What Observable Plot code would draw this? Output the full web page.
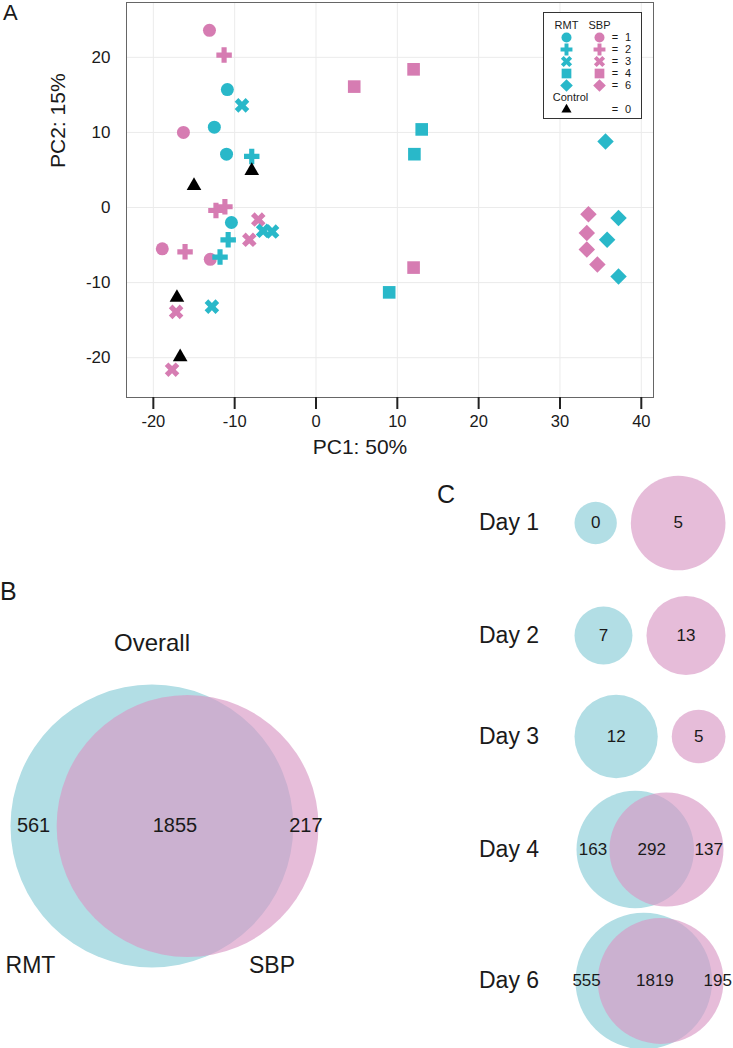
<!DOCTYPE html>
<html><head><meta charset="utf-8">
<script src="https://cdn.jsdelivr.net/npm/d3@7"></script>
<script src="https://cdn.jsdelivr.net/npm/@observablehq/plot@0.6"></script>
<style>
body{margin:0;background:#fff;}
#fig{position:relative;width:733px;height:1048px;overflow:hidden;font-family:"Liberation Sans",Arial,Helvetica,sans-serif;color:#1a1a1a;}
#fig svg{overflow:visible;}
</style></head>
<body><div id="fig"></div>
<script>
// ---------------- DATA ----------------
// Panel A: PCA scores
const rmtDay = [1,1,1,1,2,2,2,3,3,3,3,4,4,4,6,6,6,6];
const rmtPC1 = [-10.9,-12.5,-11.0,-10.4,-7.9,-10.8,-11.8,-9.1,-6.5,-5.4,-12.8,13.0,12.1,9.0,35.6,37.2,35.8,37.2];
const rmtPC2 = [15.7,10.7,7.1,-2.0,6.8,-4.3,-6.6,13.6,-3.1,-3.2,-13.2,10.4,7.1,-11.3,8.8,-1.4,-4.3,-9.2];
const sbpDay = [1,1,1,1,2,2,2,2,3,3,3,3,4,4,4,6,6,6,6];
const sbpPC1 = [-13.1,-16.3,-18.9,-13.0,-11.3,-12.3,-11.2,-16.1,-7.1,-8.2,-17.2,-17.7,4.7,12.0,12.0,33.5,33.3,33.3,34.6];
const sbpPC2 = [23.6,10.0,-5.5,-6.9,20.3,-0.4,0.1,-5.9,-1.6,-4.3,-13.9,-21.6,16.1,18.4,-8.0,-0.9,-3.4,-5.6,-7.6];
const ctrlPC1 = [-15.0,-7.9,-17.1,-16.7];
const ctrlPC2 = [2.9,4.9,-12.0,-19.9];
const dayLevels = [1,2,3,4,6];
const groups = ["RMT","SBP"];
const xTicks = [-20,-10,0,10,20,30,40];
const yTicks = [-20,-10,0,10,20];

// Panels B and C: Venn counts
const vennNames = ["Overall","Day 1","Day 2","Day 3","Day 4","Day 6"];
const rmtOnly = [561, 0, 7, 12, 163, 555];
const sbpOnly = [217, 5, 13, 5, 137, 195];
const shared  = [1855, 0, 0, 0, 292, 1819];

// ---------------- STYLE ----------------
const cyan = "#29b8c9", pink = "#d67cb2";
const vennCyan = "#b2dee5", vennPink = "#d998c5";
const FONT = '"Liberation Sans",Arial,Helvetica,sans-serif';
const fig = document.getElementById("fig");
const fmt = d => String(d);

// symbols
const symTimes = {draw(ctx, size) {
  const r = Math.sqrt(size / 5) / 2, c = Math.SQRT1_2;
  const pts = [[-3,-1],[-1,-1],[-1,-3],[1,-3],[1,-1],[3,-1],[3,1],[1,1],[1,3],[-1,3],[-1,1],[-3,1]];
  pts.forEach(([px, py], i) => { const x = (px - py) * c * r, y = (px + py) * c * r; i ? ctx.lineTo(x, y) : ctx.moveTo(x, y); });
  ctx.closePath();
}};
const symSquare = {draw(ctx, size) { d3.symbolSquare.draw(ctx, size * 1.2); }};
const symDiamond = {draw(ctx, size) { d3.symbolDiamond2.draw(ctx, size * 1.3); }};
const symTriangle = {draw(ctx, size) { d3.symbolTriangle.draw(ctx, size * 0.7); }};
const symbolScale = {domain: [1,2,3,4,6,0], range: [d3.symbolCircle, d3.symbolCross, symTimes, symSquare, symDiamond, symTriangle]};
const colorScale = {domain: ["RMT","SBP","Control"], range: [cyan, pink, "#000"]};

function place(el, left, top) {
  const wrap = document.createElement("div");
  wrap.style.cssText = `position:absolute;left:${left}px;top:${top}px;`;
  wrap.appendChild(el);
  fig.appendChild(wrap);
  return wrap;
}
function htmlText(str, x, baseline, size, anchor = "start") {
  const el = document.createElement("div");
  el.textContent = str;
  el.style.cssText = `position:absolute;white-space:nowrap;font-size:${size}px;line-height:${size}px;top:${baseline - 0.8465 * size}px;left:${x}px;`;
  if (anchor === "middle") el.style.transform = "translateX(-50%)";
  fig.appendChild(el);
}

// ---------------- PANEL A ----------------
const pts = [
  ...sbpPC1.map((v, i) => ({group: "SBP", day: sbpDay[i], pc1: v, pc2: sbpPC2[i]})),
  ...rmtPC1.map((v, i) => ({group: "RMT", day: rmtDay[i], pc1: v, pc2: rmtPC2[i]})),
  ...ctrlPC1.map((v, i) => ({group: "Control", day: 0, pc1: v, pc2: ctrlPC2[i]}))
];

const scatter = Plot.plot({
  width: 733, height: 470,
  marginLeft: 126, marginRight: 80, marginTop: 2, marginBottom: 73,
  style: {fontFamily: FONT, background: "transparent", color: "#1a1a1a"},
  x: {domain: [-23.3, 41.5]},
  y: {domain: [-25.3, 27.3]},
  color: colorScale,
  symbol: symbolScale,
  marks: [
    Plot.gridX(xTicks, {stroke: "#ebebeb", strokeOpacity: 1}),
    Plot.gridY(yTicks, {stroke: "#ebebeb", strokeOpacity: 1}),
    Plot.frame({stroke: "#666"}),
    Plot.axisX(xTicks, {tickSize: 12, tickPadding: 6, strokeWidth: 2, stroke: "#222", fontSize: 16.5, tickFormat: fmt, label: null}),
    Plot.axisY(yTicks, {tickSize: 0, tickPadding: 16, fontSize: 17, tickFormat: fmt, label: null}),
    Plot.dot(pts, {x: "pc1", y: "pc2", fill: "group", symbol: "day", r: 6.5}),
    Plot.text(["PC1: 50%"], {frameAnchor: "bottom", text: d => d, dx: -30, dy: 56, fontSize: 21}),
    Plot.text(["PC2: 15%"], {frameAnchor: "left", text: d => d, dx: -68, dy: -32, rotate: -90, fontSize: 21})
  ]
});
place(scatter, 0, 0);

// legend
const legendDots = dayLevels.flatMap(day => groups.map(g => ({g, day})));
const LFS = 11;
const legend = Plot.plot({
  width: 97, height: 105, margin: 0,
  style: {fontFamily: FONT, background: "white", border: "1px solid #333", color: "#1a1a1a", display: "block"},
  x: {type: "point", domain: groups, range: [22, 55], padding: 0, axis: null},
  y: {type: "point", domain: ["head", ...dayLevels.map(String), "Control", "0"], range: [10, 97], padding: 0, axis: null},
  color: colorScale,
  symbol: symbolScale,
  marks: [
    Plot.text(groups, {x: d => d, y: () => "head", text: d => d, fontSize: LFS, fill: "#1a1a1a"}),
    Plot.dot(legendDots, {x: "g", y: d => String(d.day), symbol: "day", fill: "g", r: 5}),
    Plot.text(dayLevels, {x: () => "SBP", y: d => String(d), text: () => "=", dx: 15.5, fontSize: LFS, fill: "#1a1a1a"}),
    Plot.text(dayLevels, {x: () => "SBP", y: d => String(d), text: d => String(d), dx: 28.5, fontSize: LFS, fill: "#1a1a1a"}),
    Plot.text(["Control"], {x: () => "RMT", y: () => "Control", text: d => d, dx: 4, fontSize: LFS, fill: "#1a1a1a"}),
    Plot.dot([0], {x: () => "RMT", y: () => "0", symbol: d => d, fill: () => "Control", r: 4.5}),
    Plot.text([0], {x: () => "SBP", y: () => "0", text: () => "=", dx: 15.5, fontSize: LFS, fill: "#1a1a1a"}),
    Plot.text([0], {x: () => "SBP", y: () => "0", text: d => String(d), dx: 28.5, fontSize: LFS, fill: "#1a1a1a"})
  ]
});
place(legend, 543, 12);

// ---------------- VENN (B, C) ----------------
function lens(r1, r2, d) {
  if (d >= r1 + r2) return 0;
  if (d <= Math.abs(r1 - r2)) return Math.PI * Math.min(r1, r2) ** 2;
  const a = r1 * r1 * Math.acos((d * d + r1 * r1 - r2 * r2) / (2 * d * r1));
  const b = r2 * r2 * Math.acos((d * d + r2 * r2 - r1 * r1) / (2 * d * r2));
  const c = 0.5 * Math.sqrt((-d + r1 + r2) * (d + r1 - r2) * (d - r1 + r2) * (d + r1 + r2));
  return a + b - c;
}
function solveD(r1, r2, area) {
  let lo = Math.abs(r1 - r2), hi = r1 + r2;
  for (let i = 0; i < 80; i++) { const m = (lo + hi) / 2; if (lens(r1, r2, m) > area) lo = m; else hi = m; }
  return (lo + hi) / 2;
}

const vennLayout = [
  {cx: 164, cy: 825, W: 308, fs: 20},
  {cx: 649, cy: 522, W: 151, fs: 17},
  {cx: 649, cy: 635, W: 151, fs: 17},
  {cx: 649, cy: 736, W: 151, fs: 17},
  {cx: 649, cy: 849, W: 147, fs: 17},
  {cx: 649, cy: 980, W: 148, fs: 17}
];
const GAP = 14, PAD = 8;

vennNames.forEach((name, i) => {
  const {cx, cy, W, fs} = vennLayout[i];
  const a = rmtOnly[i], b = sbpOnly[i], c = shared[i];
  let r1, r2, d, k, leftU, rightU, labels;
  if (c > 0) {
    r1 = Math.sqrt((a + c) / Math.PI); r2 = Math.sqrt((b + c) / Math.PI);
    d = solveD(r1, r2, c);
    leftU = Math.min(-r1, d - r2); rightU = Math.max(r1, d + r2);
    k = W / (rightU - leftU);
    labels = [
      {x: (leftU + (d - r2)) / 2, t: a},
      {x: ((d - r2) + r1) / 2, t: c},
      {x: (r1 + rightU) / 2, t: b}
    ];
  } else {
    r1 = Math.sqrt(Math.max(a, 1) / Math.PI); r2 = Math.sqrt(Math.max(b, 1) / Math.PI);
    k = (W - GAP) / (2 * (r1 + r2));
    d = r1 + GAP / k + r2;
    leftU = -r1; rightU = d + r2;
    labels = [{x: 0, t: a}, {x: d, t: b}];
  }
  const H = Math.ceil(2 * Math.max(r1, r2) * k + 2 * PAD);
  const circles = [{g: "RMT", x: 0, r: r1}, {g: "SBP", x: d, r: r2}];
  const chart = Plot.plot({
    width: W + 2 * PAD, height: H, margin: 0,
    style: {fontFamily: FONT, background: "transparent", color: "#1a1a1a"},
    x: {domain: [leftU, rightU], range: [PAD, PAD + W], axis: null},
    y: {domain: [-H / 2 / k, H / 2 / k], range: [H, 0], axis: null},
    r: {type: "linear", domain: [0, 1], range: [0, k]},
    marks: [
      Plot.dot(circles.filter(e => e.g === "RMT"), {x: "x", y: () => 0, r: "r", fill: vennCyan, stroke: "none"}),
      Plot.dot(circles.filter(e => e.g === "SBP"), {x: "x", y: () => 0, r: "r", fill: vennPink, fillOpacity: 0.65, stroke: "none"}),
      Plot.text(labels, {x: "x", y: () => 0, text: e => String(e.t), fontSize: fs, fill: "#1a1a1a"})
    ]
  });
  place(chart, cx - W / 2 - PAD, cy - H / 2);
  if (i > 0) htmlText(name, 479, cy + 8, 23);
});

// ---------------- TEXT ----------------
htmlText("A", 3, 21, 22);
htmlText("B", 0, 600, 25);
htmlText("C", 437, 503, 25);
htmlText("Overall", 152, 651, 24, "middle");
htmlText("RMT", 30.5, 973, 23, "middle");
htmlText("SBP", 272, 973, 23, "middle");
</script>
</body></html>
